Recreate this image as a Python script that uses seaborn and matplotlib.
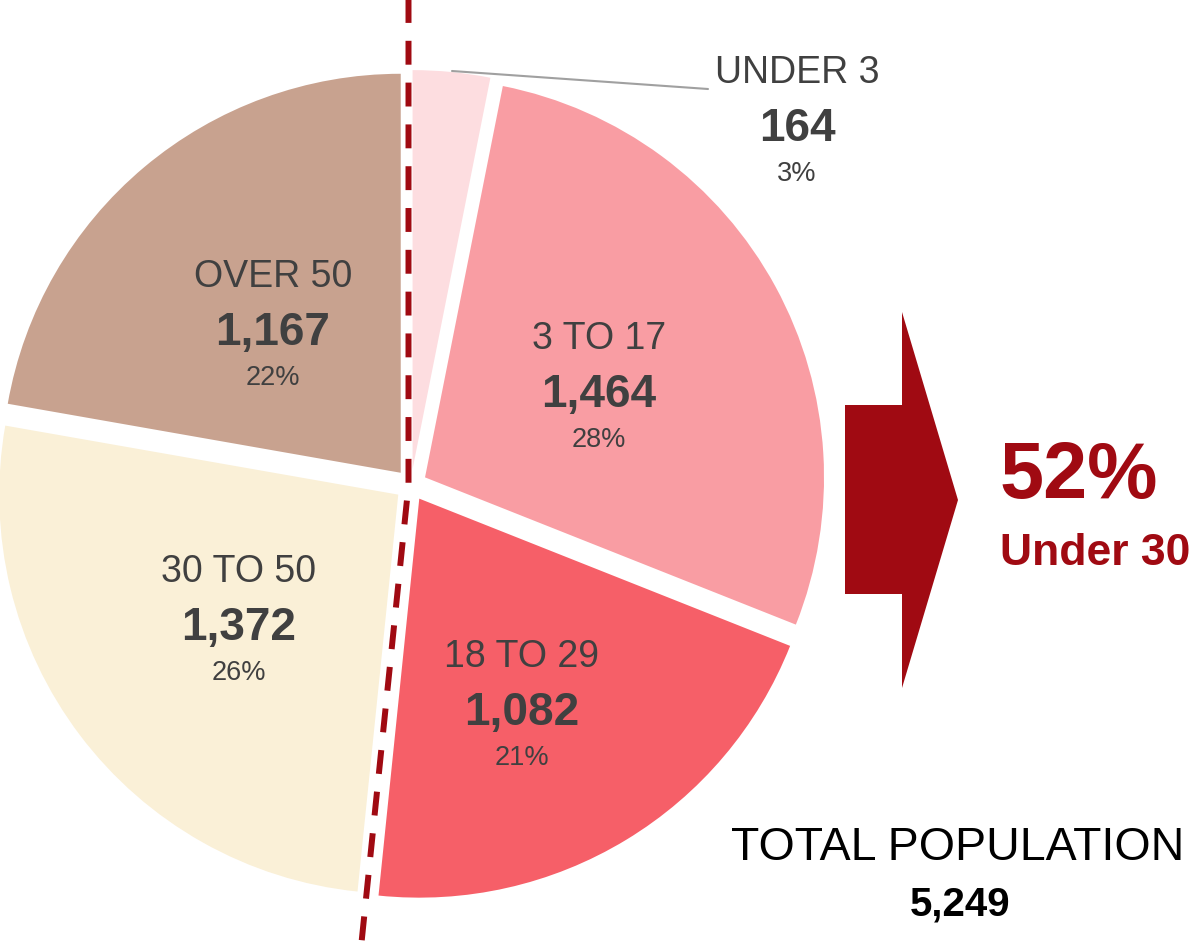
import matplotlib
matplotlib.use('Agg')
import matplotlib.pyplot as plt
from matplotlib.patches import Polygon
import numpy as np
import seaborn as sns

# data
categories = ['UNDER 3', '3 TO 17', '18 TO 29', '30 TO 50', 'OVER 50']
population = [164, 1464, 1082, 1372, 1167]
under_30 = ['UNDER 3', '3 TO 17', '18 TO 29']
slice_colors = ['#FDDDE0', '#F99DA3', '#F65F68', '#FAF0D7', '#C8A28F']

# label anchors (pixel x centre, baseline of the category line)
label_pos = [(797, 83), (599, 349), (522, 667), (239, 582), (273, 287)]

sns.set_theme(style='white')
plt.rcParams['font.family'] = ['Liberation Sans', 'DejaVu Sans']

W, H = 1192, 952
fig = plt.figure(figsize=(W / 100, H / 100), dpi=100)

total = sum(population)
shares = [v / total for v in population]
share_u30 = sum(s for c, s in zip(categories, shares) if c in under_30)

# pie in its own axes, unit radius
cx, cy, R = 411, 485, 399
ax = fig.add_axes([0, 0, 1, 1])
ax.pie(population, colors=sns.color_palette(slice_colors), startangle=90,
       counterclock=False, radius=1, explode=[0.04] * len(population),
       wedgeprops=dict(linewidth=0))
ax.set_xlim(-cx / R, (W - cx) / R)
ax.set_ylim((cy - H) / R, cy / R)
ax.set_aspect('equal')
ax.axis('off')

# overlay in pixel coordinates (y down)
ov = fig.add_axes([0, 0, 1, 1])
ov.set_xlim(0, W)
ov.set_ylim(H, 0)
ov.axis('off')
ov.patch.set_alpha(0)

dark = '#404040'
red = '#A00A12'

for cat, val, sh, (x, y) in zip(categories, population, shares, label_pos):
    ov.text(x, y, cat, ha='center', va='baseline', fontsize=27, color=dark)
    ov.text(x, y + 58, f'{val:,}', ha='center', va='baseline', fontsize=33,
            fontweight='bold', color=dark)
    ov.text(x, y + 98, f'{round(100 * sh)}%', ha='center', va='baseline',
            fontsize=19.5, color=dark)

# leader line for the small slice
ov.plot([452, 708], [71, 89], color='#A0A0A0', lw=1.5)

# dashed split line: straight up, then along the under-30 boundary
lx = cx - 2.5
theta = np.deg2rad(360 * share_u30)
length = (H - cy + 20) / np.cos(np.pi - theta)
bx = lx + np.sin(theta) * length
by = cy - np.cos(theta) * length
ov.plot([lx, lx, bx], [-10, cy, by], color=red, lw=4.3,
        dashes=(4, 3), solid_capstyle='butt', dash_capstyle='butt')

# arrow
arrow = [(845, 405), (902, 405), (902, 312), (958, 500), (902, 688),
         (902, 594), (845, 594)]
ov.add_patch(Polygon(arrow, closed=True, facecolor=red, edgecolor='none'))

ov.text(1000, 498, f'{round(100 * share_u30)}%', ha='left', va='baseline',
        fontsize=57, fontweight='bold', color=red)
ov.text(1000, 565, 'Under 30', ha='left', va='baseline', fontsize=32,
        fontweight='bold', color=red)

ov.text(958, 860, 'TOTAL POPULATION', ha='center', va='baseline',
        fontsize=33.5, color='black')
ov.text(960, 915, f'{total:,}', ha='center', va='baseline', fontsize=29,
        fontweight='bold', color='black')

fig.savefig('out.png', dpi=100)
